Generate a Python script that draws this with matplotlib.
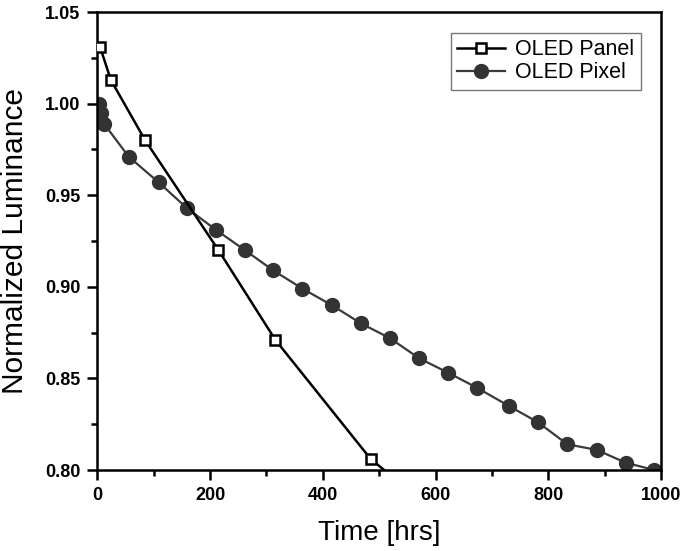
import matplotlib.pyplot as plt
from matplotlib.ticker import MultipleLocator

plt.rcParams['font.family'] = ['Liberation Sans', 'DejaVu Sans']

# OLED panel luminance (open squares)
panel_t = [5, 24, 85, 215, 316, 485, 600]
panel_l = [1.031, 1.013, 0.980, 0.920, 0.871, 0.806, 0.777]

# OLED pixel luminance (filled circles)
pixel_t = [3, 6, 12, 56, 109, 159, 211, 262, 312, 364, 416, 468, 519,
           571, 623, 673, 730, 782, 834, 886, 937, 988]
pixel_l = [1.000, 0.995, 0.989, 0.971, 0.957, 0.943, 0.931, 0.920, 0.909,
           0.899, 0.890, 0.880, 0.872, 0.861, 0.853, 0.845, 0.835, 0.826,
           0.814, 0.811, 0.804, 0.800]

fig = plt.figure(figsize=(6.85, 5.51), dpi=100)
ax = fig.add_axes([0.142, 0.147, 0.823, 0.831])

ax.plot(pixel_t, pixel_l, color='#3a3a3a', lw=1.6, marker='o', ms=10,
        mfc='#333333', mec='#333333', label='OLED Pixel', zorder=2)
ax.plot(panel_t, panel_l, color='black', lw=1.8, marker='s', ms=7.5,
        mfc='white', mec='black', mew=1.8, label='OLED Panel', zorder=3)

ax.set_xlim(0, 1000)
ax.set_ylim(0.80, 1.05)
ax.xaxis.set_major_locator(MultipleLocator(200))
ax.xaxis.set_minor_locator(MultipleLocator(100))
ax.yaxis.set_major_locator(MultipleLocator(0.05))
ax.yaxis.set_minor_locator(MultipleLocator(0.025))
ax.yaxis.set_major_formatter(plt.FormatStrFormatter('%.2f'))

ax.tick_params(which='both', direction='out', width=1.8, top=False, right=False)
ax.tick_params(which='major', length=7, labelsize=13, pad=5)
ax.tick_params(which='minor', length=4)
for lab in ax.get_xticklabels() + ax.get_yticklabels():
    lab.set_fontweight('bold')
for s in ax.spines.values():
    s.set_linewidth(1.8)

ax.set_xlabel('Time [hrs]', fontsize=20, labelpad=12)
ax.set_ylabel('Normalized Luminance', fontsize=21.5, labelpad=12)

h, l = ax.get_legend_handles_labels()
leg = ax.legend(h[::-1], l[::-1], loc='upper right', bbox_to_anchor=(0.9645, 0.955),
                borderaxespad=0, fontsize=15.5, frameon=True, fancybox=False,
                edgecolor='#555555', handlelength=2.2, handletextpad=0.5,
                borderpad=0.3, labelspacing=0.1)
leg.get_frame().set_linewidth(1.0)

fig.savefig('out.png', dpi=100)
